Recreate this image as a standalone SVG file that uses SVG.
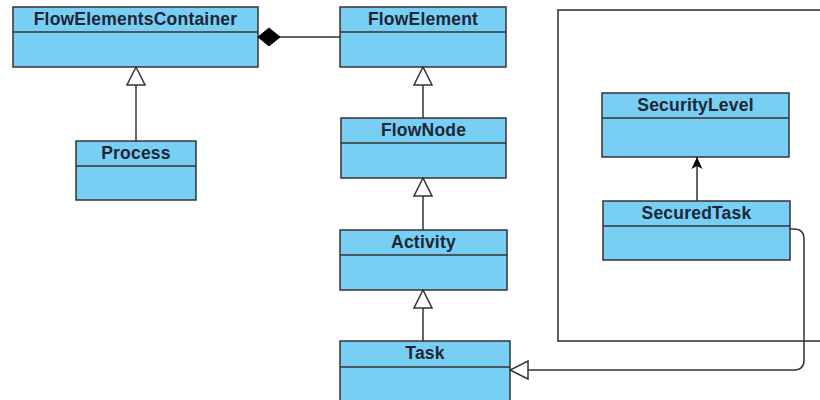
<svg xmlns="http://www.w3.org/2000/svg" width="820" height="400" viewBox="0 0 820 400">
  <style>
    .box { fill: #79cef4; stroke: #333; stroke-width: 1.5; }
    .div { stroke: #333; stroke-width: 1.5; }
    .name { font-family: "Liberation Sans", Arial, sans-serif; font-weight: bold; font-size: 17.5px; letter-spacing: 0.2px; fill: #1b2636; text-anchor: middle; }
    .edge { fill: none; stroke: #333; stroke-width: 1.5; }
    .frame { fill: #fff; stroke: #2a2a2a; stroke-width: 1.5; }
  </style>
  <defs>
    <!-- hollow triangle for generalization, tip at the target box -->
    <marker id="gen" viewBox="0 0 20 20" refX="19" refY="10" markerWidth="20" markerHeight="20" markerUnits="userSpaceOnUse" orient="auto-start-reverse">
      <path d="M19,10 L1,1 L1,19 Z" fill="#fff" stroke="#333" stroke-width="1.5"/>
    </marker>
    <!-- filled diamond for composition -->
    <marker id="comp" viewBox="0 0 24 20" refX="23" refY="10" markerWidth="24" markerHeight="20" markerUnits="userSpaceOnUse" orient="auto-start-reverse">
      <path d="M1,10 L12,1 L23,10 L12,19 Z" fill="#000" stroke="#000" stroke-width="1"/>
    </marker>
    <!-- navigable association arrow -->
    <marker id="nav" viewBox="0 0 14 14" refX="13" refY="7" markerWidth="14" markerHeight="14" markerUnits="userSpaceOnUse" orient="auto">
      <path d="M1,1.5 L13,7 L1,12.5 L4,7 Z" fill="#000"/>
    </marker>
  </defs>

  <!-- package frame on the right -->
  <rect class="frame" x="558" y="10" width="280" height="331"/>

  <g id="FlowElementsContainer">
    <rect class="box" x="13" y="7" width="245" height="60"/>
    <line class="div" x1="13" y1="32" x2="258" y2="32"/>
    <text class="name" x="135.5" y="25">FlowElementsContainer</text>
  </g>
  <g id="FlowElement">
    <rect class="box" x="340" y="7" width="166" height="60"/>
    <line class="div" x1="340" y1="32" x2="506" y2="32"/>
    <text class="name" x="423" y="25">FlowElement</text>
  </g>
  <g id="Process">
    <rect class="box" x="76" y="141" width="120" height="59"/>
    <line class="div" x1="76" y1="166" x2="196" y2="166"/>
    <text class="name" x="136" y="158.5">Process</text>
  </g>
  <g id="FlowNode">
    <rect class="box" x="341" y="118" width="165" height="60"/>
    <line class="div" x1="341" y1="143" x2="506" y2="143"/>
    <text class="name" x="423.5" y="135.5">FlowNode</text>
  </g>
  <g id="Activity">
    <rect class="box" x="340" y="230" width="167" height="60"/>
    <line class="div" x1="340" y1="255" x2="507" y2="255"/>
    <text class="name" x="423.5" y="247.5">Activity</text>
  </g>
  <g id="Task">
    <rect class="box" x="340" y="341" width="170" height="65"/>
    <line class="div" x1="340" y1="367" x2="510" y2="367"/>
    <text class="name" x="425" y="358.5">Task</text>
  </g>
  <g id="SecurityLevel">
    <rect class="box" x="602" y="93" width="187" height="64"/>
    <line class="div" x1="602" y1="118" x2="789" y2="118"/>
    <text class="name" x="695.5" y="111">SecurityLevel</text>
  </g>
  <g id="SecuredTask">
    <rect class="box" x="603" y="201" width="187" height="59"/>
    <line class="div" x1="603" y1="226" x2="790" y2="226"/>
    <text class="name" x="696.5" y="218.5">SecuredTask</text>
  </g>

  <g id="edges">
    <line class="edge" x1="258" y1="37" x2="340" y2="37" marker-start="url(#comp)"/>
    <line class="edge" x1="136" y1="67" x2="136" y2="141" marker-start="url(#gen)"/>
    <line class="edge" x1="423" y1="67" x2="423" y2="118" marker-start="url(#gen)"/>
    <line class="edge" x1="423" y1="178" x2="423" y2="230" marker-start="url(#gen)"/>
    <line class="edge" x1="423" y1="290" x2="423" y2="341" marker-start="url(#gen)"/>
    <line class="edge" x1="697" y1="201" x2="697" y2="157" marker-end="url(#nav)"/>
    <path class="edge" d="M510,370 L794,370 Q804,370 804,360 L804,239 Q804,229 794,229 L790,229" marker-start="url(#gen)"/>
  </g>
</svg>
